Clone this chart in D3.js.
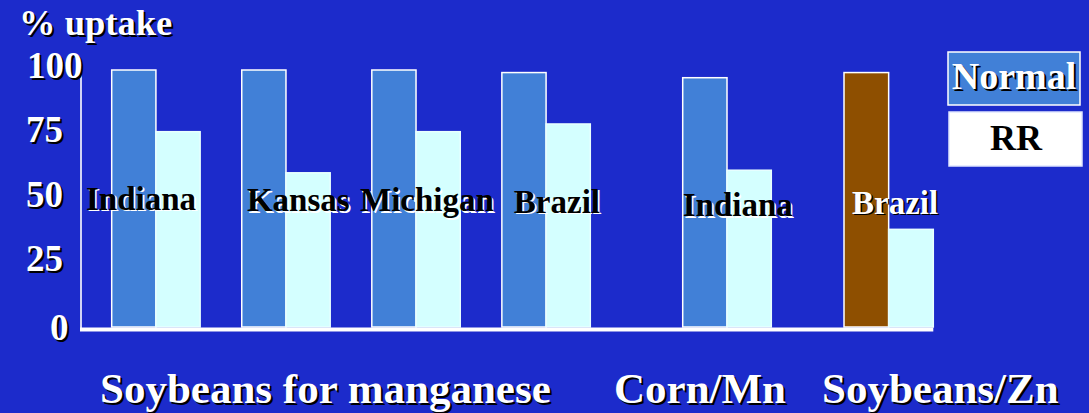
<!DOCTYPE html>
<html>
<head>
<meta charset="utf-8">
<script src="https://cdn.jsdelivr.net/npm/d3@7/dist/d3.min.js"></script>
<style>
  html, body { margin: 0; padding: 0; background: #1c2bcb; }
  svg { display: block; }
  text { font-family: "Liberation Serif", "Times New Roman", serif; font-weight: bold; }
</style>
</head>
<body>
<svg id="chart" width="1089" height="413"></svg>
<script>
// ---- data ----
const crops = ["Soybeans for manganese", "Corn/Mn", "Soybeans/Zn"];
const locations = ["Indiana", "Kansas", "Michigan", "Brazil", "Indiana", "Brazil"];
const cropOfGroup = [0, 0, 0, 0, 1, 2];
const normalUptake = [100, 100, 100, 99, 97, 99];
const rrUptake = [76, 60, 76, 79, 61, 38];
const seriesNames = ["Normal", "RR"];
const yTicks = [0, 25, 50, 75, 100];
const yTitle = "% uptake";

// ---- layout ----
const W = 1089, H = 413;
const colors = { bg: "#1c2bcb", normal: "#4180d7", rr: "#d4ffff", zinc: "#8e4f00" };
const baseY = 327, topY = 70;
const sectionRange = [[111.7, 590.3], [682.7, 771.3], [844, 933.3]];
const cropLabelX = [100, 614, 822];
const labelDx = [-25.7, 5.2, -11.8, 12, 0, 8];
const labelDy = [-1.5, 0, 0, 1.5, 5, 2.5];

const svg = d3.select("#chart");
svg.append("rect").attr("width", W).attr("height", H).attr("fill", colors.bg);

const y = d3.scaleLinear().domain([0, 100]).range([baseY, topY]);

// one band scale per crop section, one inner band scale for the two series
const sectionScales = crops.map((c, s) => {
  const idx = d3.range(locations.length).filter(i => cropOfGroup[i] === s);
  return d3.scaleBand().domain(idx).range(sectionRange[s])
    .paddingInner(idx.length > 1 ? 0.32 : 0).paddingOuter(0);
});
const groupX = i => sectionScales[cropOfGroup[i]](i);
const groupW = i => sectionScales[cropOfGroup[i]].bandwidth();

function shadowText(g, x, yv, txt, size, fill, shadow, opts = {}) {
  const off = opts.off || 2;
  const anchor = opts.anchor || "start";
  if (shadow) {
    g.append("text").attr("x", x + off).attr("y", yv + off).attr("font-size", size)
      .attr("text-anchor", anchor).attr("fill", shadow).text(txt);
  }
  return g.append("text").attr("x", x).attr("y", yv).attr("font-size", size)
    .attr("text-anchor", anchor).attr("fill", fill).text(txt);
}

// bars
const groups = svg.append("g").selectAll("g")
  .data(d3.range(locations.length))
  .join("g");

groups.each(function (i) {
  const g = d3.select(this);
  const inner = d3.scaleBand().domain(seriesNames).range([0, groupW(i)]).padding(0);
  const vals = [normalUptake[i], rrUptake[i]];
  seriesNames.forEach((s, k) => {
    const fill = k === 0 ? (cropOfGroup[i] === 2 ? colors.zinc : colors.normal) : colors.rr;
    g.append("rect")
      .attr("x", groupX(i) + inner(s))
      .attr("y", y(vals[k]))
      .attr("width", inner.bandwidth())
      .attr("height", y(0) - y(vals[k]))
      .attr("fill", fill)
      .attr("stroke", k === 0 ? "#ffffff" : "#e8ffff")
      .attr("stroke-width", 1.5);
  });
});

// axes
const x0 = 81;
svg.append("line").attr("x1", x0).attr("x2", x0).attr("y1", y(100) - 3).attr("y2", baseY + 4)
  .attr("stroke", "#ffffff").attr("stroke-width", 1.6);
svg.append("rect").attr("x", x0 - 1).attr("y", baseY + 0.5)
  .attr("width", sectionRange[2][1] - x0 + 1).attr("height", 4).attr("fill", "#ffffff");

// y tick labels
const yAxisG = svg.append("g");
yTicks.forEach(v => {
  const ax = v === 100 ? 27 : (v === 0 ? 50 : 26);
  const dy = v === 0 ? 13 : 8;
  shadowText(yAxisG, ax, y(v) + dy, String(v), 37, "#ffffff", "#000000");
});

// axis title
shadowText(svg, 19, 35, yTitle, 36.5, "#ffffff", "#000000");

// location labels
locations.forEach((loc, i) => {
  const isZn = cropOfGroup[i] === 2;
  shadowText(svg, groupX(i) + labelDx[i], y(45) + labelDy[i], loc, 33,
    isZn ? "#ffffff" : "#000000", isZn ? "#000000" : "#ffffff", { off: 1.6 });
});

// crop labels
crops.forEach((c, s) => {
  shadowText(svg, cropLabelX[s], 403, c, 43, "#ffffff", "#000000");
});

// legend
const leg = svg.append("g");
leg.append("rect").attr("x", 948).attr("y", 52).attr("width", 132).attr("height", 53)
  .attr("fill", colors.normal).attr("stroke", "#ffffff").attr("stroke-width", 1.5);
shadowText(leg, 1014, 89, seriesNames[0], 38, "#ffffff", "#000000", { anchor: "middle" });
leg.append("rect").attr("x", 949).attr("y", 112).attr("width", 133).attr("height", 54)
  .attr("fill", "#ffffff").attr("stroke", "#dfe6ff").attr("stroke-width", 1.5);
shadowText(leg, 1016, 150, seriesNames[1], 36, "#000000", null, { anchor: "middle" });
</script>
</body>
</html>
